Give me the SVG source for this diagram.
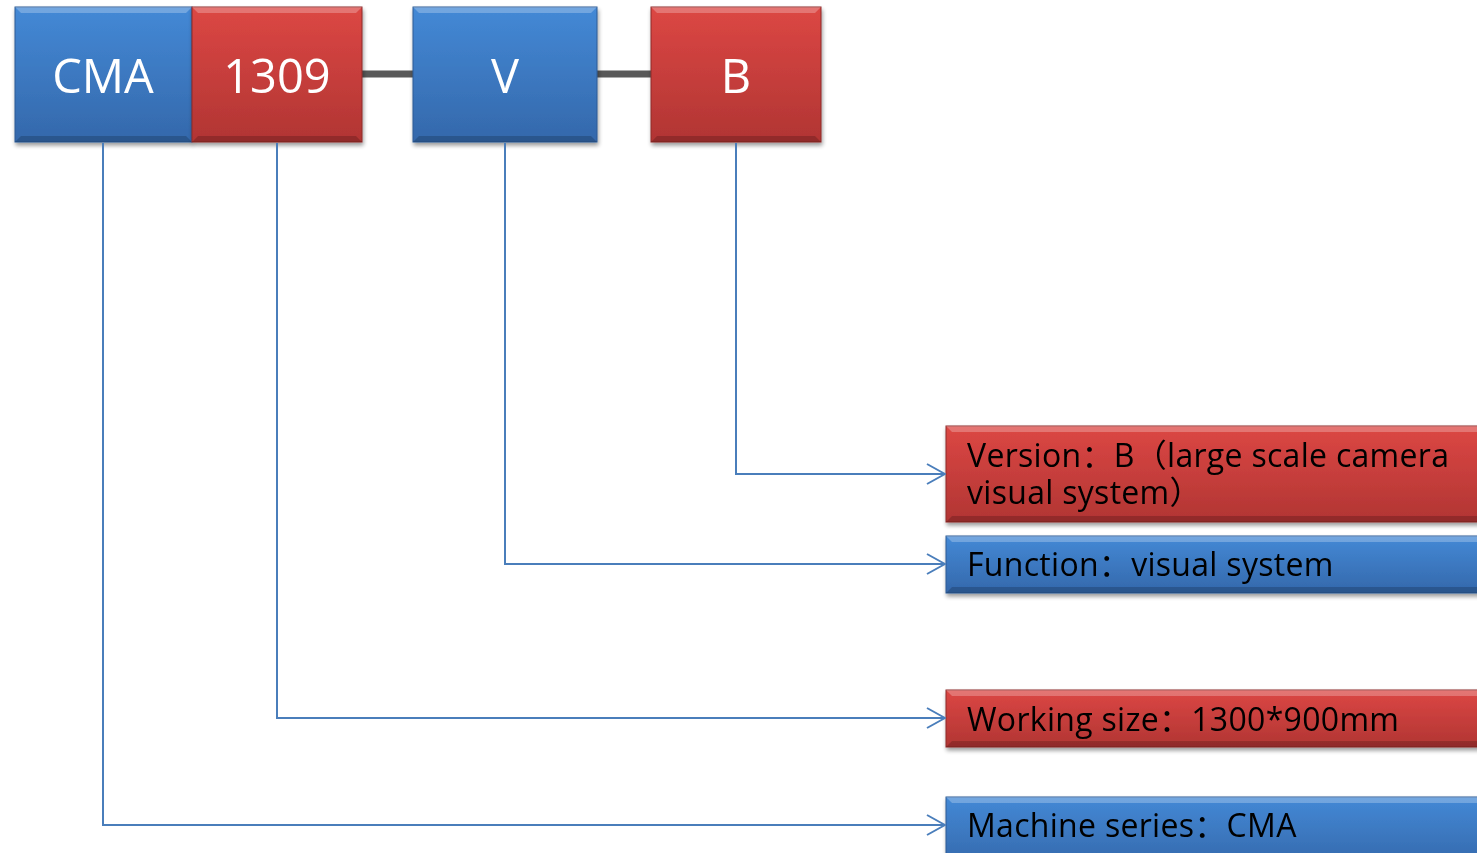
<svg xmlns="http://www.w3.org/2000/svg" width="1477" height="853" viewBox="0 0 1477 853">
<defs>
<linearGradient id="gB" x1="0" y1="0" x2="0" y2="1"><stop offset="0" stop-color="#4489d6"/><stop offset="1" stop-color="#3468ab"/></linearGradient>
<linearGradient id="gR" x1="0" y1="0" x2="0" y2="1"><stop offset="0" stop-color="#dc4744"/><stop offset="1" stop-color="#b13533"/></linearGradient>
<filter id="sh" x="-10%" y="-10%" width="130%" height="140%"><feGaussianBlur in="SourceAlpha" stdDeviation="2"/><feOffset dx="1" dy="3"/><feComponentTransfer><feFuncA type="linear" slope="0.4"/></feComponentTransfer><feMerge><feMergeNode/><feMergeNode in="SourceGraphic"/></feMerge></filter>
<marker id="ar" viewBox="0 0 20 22" refX="19" refY="11" markerWidth="20" markerHeight="22" markerUnits="userSpaceOnUse" orient="auto"><path d="M1,1 L19,11 L1,21" fill="none" stroke="#4a7ebb" stroke-width="2"/></marker>
</defs>
<style>
.b{fill:url(#gB);stroke:#2e5b94;stroke-width:1}
.r{fill:url(#gR);stroke:#8e2a28;stroke-width:1}
.hi{fill:#ffffff;opacity:0.25}
.lo{fill:#000000;opacity:0.18}
.t{font-family:"Open Sans","Noto Sans CJK SC",sans-serif;font-size:47px;fill:#ffffff;text-anchor:middle}
.l{font-family:"Open Sans","Noto Sans CJK SC",sans-serif;font-size:32px;fill:#000000;letter-spacing:0.3px}
.c{fill:none;stroke:#4a7ebb;stroke-width:2;marker-end:url(#ar)}
.g{stroke:#595959;stroke-width:7}
</style>
<g id="links">
<line class="g" x1="362" y1="74" x2="413" y2="74"/>
<line class="g" x1="597" y1="74" x2="651" y2="74"/>
</g>
<g id="node-cma" filter="url(#sh)">
<rect class="b" x="15" y="7" width="177" height="135"/>
<polygon class="hi" points="15,7 192,7 186,13 21,13"/>
<polygon class="lo" points="15,142 192,142 186,136 21,136"/>
<text class="t" x="103" y="93">CMA</text>
</g>
<g id="node-1309" filter="url(#sh)">
<rect class="r" x="192" y="7" width="170" height="135"/>
<polygon class="hi" points="192,7 362,7 356,13 198,13"/>
<polygon class="lo" points="192,142 362,142 356,136 198,136"/>
<text class="t" x="277" y="93">1309</text>
</g>
<g id="node-v" filter="url(#sh)">
<rect class="b" x="413" y="7" width="184" height="135"/>
<polygon class="hi" points="413,7 597,7 591,13 419,13"/>
<polygon class="lo" points="413,142 597,142 591,136 419,136"/>
<text class="t" x="505" y="93">V</text>
</g>
<g id="node-b" filter="url(#sh)">
<rect class="r" x="651" y="7" width="170" height="135"/>
<polygon class="hi" points="651,7 821,7 815,13 657,13"/>
<polygon class="lo" points="651,142 821,142 815,136 657,136"/>
<text class="t" x="736" y="93">B</text>
</g>
<g id="node-version" filter="url(#sh)">
<rect class="r" x="946" y="426" width="545" height="96"/>
<polygon class="hi" points="946,426 1491,426 1491,432 952,432"/>
<polygon class="lo" points="946,522 1491,522 1491,516 952,516"/>
<text class="l" x="967" y="467">Version：B（large scale camera<tspan x="967" dy="37">visual system）</tspan></text>
</g>
<g id="node-function" filter="url(#sh)">
<rect class="b" x="946" y="536" width="545" height="57"/>
<polygon class="hi" points="946,536 1491,536 1491,542 952,542"/>
<polygon class="lo" points="946,593 1491,593 1491,587 952,587"/>
<text class="l" x="967" y="576">Function：visual system</text>
</g>
<g id="node-working" filter="url(#sh)">
<rect class="r" x="946" y="690" width="545" height="57"/>
<polygon class="hi" points="946,690 1491,690 1491,696 952,696"/>
<polygon class="lo" points="946,747 1491,747 1491,741 952,741"/>
<text class="l" x="967" y="731">Working size：1300*900mm</text>
</g>
<g id="node-machine" filter="url(#sh)">
<rect class="b" x="946" y="797" width="545" height="70"/>
<polygon class="hi" points="946,797 1491,797 1491,803 952,803"/>
<text class="l" x="967" y="837">Machine series：CMA</text>
</g>
<g id="connectors">
<polyline class="c" points="736,143 736,474 945,474"/>
<polyline class="c" points="505,143 505,564 945,564"/>
<polyline class="c" points="277,143 277,718 945,718"/>
<polyline class="c" points="103,143 103,825 945,825"/>
</g>
</svg>
